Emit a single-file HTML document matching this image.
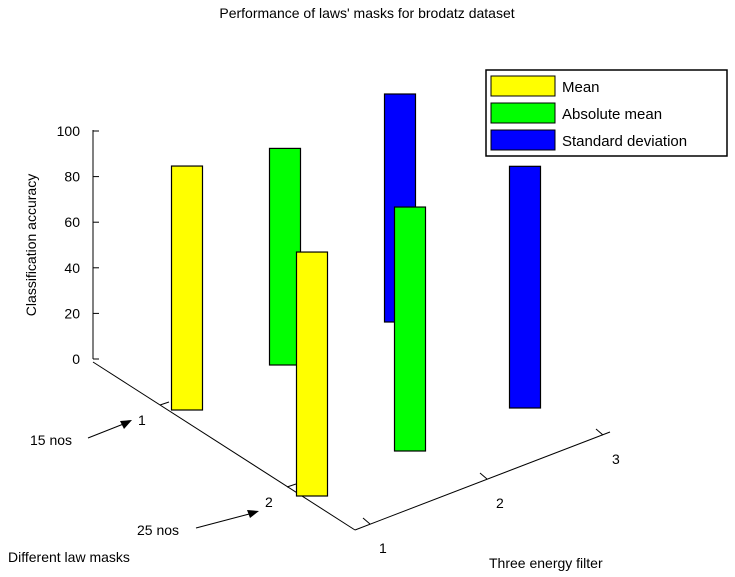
<!DOCTYPE html>
<html><head><meta charset="utf-8"><style>
body{margin:0;background:#fff}
svg{display:block;font-family:"Liberation Sans",Arial,sans-serif}
</style></head><body>
<svg id="chart" width="735" height="577" viewBox="0 0 735 577" style="position:absolute;left:0;top:0">
<text x="367" y="18" text-anchor="middle" font-size="14">Performance of laws' masks for brodatz dataset</text>
<g id="axes" stroke="#000" stroke-width="1" fill="none"></g>
<g id="labels" font-size="14"></g>
<g id="bars"></g>
<text transform="translate(36,245) rotate(-90)" text-anchor="middle" font-size="14">Classification accuracy</text>
<text x="8" y="562" font-size="14">Different law masks</text>
<text x="489" y="568" font-size="14">Three energy filter</text>
<text x="30" y="445" font-size="14">15 nos</text>
<line x1="88" y1="438" x2="126" y2="423" stroke="#000"/>
<polygon points="132,420 120,421 124,429" fill="#000"/>
<text x="137" y="535" font-size="14">25 nos</text>
<line x1="196" y1="528" x2="253" y2="513" stroke="#000"/>
<polygon points="259,511 247,510 250,518" fill="#000"/>
<g>
<rect x="486" y="70" width="241" height="86" fill="#fff" stroke="#000" stroke-width="1.5"/>
<rect x="491" y="76" width="64" height="20" fill="#ffff00" stroke="#000"/>
<text x="562" y="92" font-size="15">Mean</text>
<rect x="491" y="103" width="64" height="20" fill="#00ff00" stroke="#000"/>
<text x="562" y="119" font-size="15">Absolute mean</text>
<rect x="491" y="130" width="64" height="20" fill="#0000ff" stroke="#000"/>
<text x="562" y="146" font-size="15">Standard deviation</text>
</g>
</svg>
<script>
const series = ["Mean","Absolute mean","Standard deviation"];
const colors = ["#ffff00","#00ff00","#0000ff"];
const maskCats = ["1","2"];
const filterCats = ["1","2","3"];
const zTicks = [0,20,40,60,80,100];
// values[mask][filter]
const valuesMask1 = [107, 95, 100];
const valuesMask2 = [107, 107, 106];
const values = [valuesMask1, valuesMask2];

const NS="http://www.w3.org/2000/svg";
function mk(t,a,p){const e=document.createElementNS(NS,t);for(const k in a)e.setAttribute(k,a[k]);p.appendChild(e);return e;}
const zScale=2.28;
// perspective-like floor projection
function filterOffX(f){return f===1?0:(f===2?98:213);}
function filterOffY(f){return f===1?0:(f===2?-45:-88);}
function floorPt(f,m){return [187+filterOffX(f)+(m-1)*125, 410+filterOffY(f)+(m-1)*86];}
function zY(v){return 359 - v*zScale;}

const axes=document.getElementById('axes');
const labels=document.getElementById('labels');
let a=mk('line',{x1:93,y1:359,x2:93,y2:130},axes);

zTicks.forEach(t=>{
  const y=zY(t);
  const l=mk('line',{x1:93,y1:y,x2:99,y2:y},axes);
  
  const tx=mk('text',{x:80,y:y+5,'text-anchor':'end'},labels);tx.textContent=t;
  
});
a=mk('line',{x1:93,y1:362,x2:355,y2:530},axes);

a=mk('line',{x1:355,y1:530,x2:610,y2:432},axes);

const maskTickPos=[[160,405],[287,487]];
maskCats.forEach((c,i)=>{
  const [x,y]=maskTickPos[i];
  const l=mk('line',{x1:x,y1:y,x2:x+9,y2:y-3},axes);
  
  const t=mk('text',{x:x-22,y:y+20},labels);t.textContent=c;
  
});
const filtTickPos=[[370,524],[487,479],[603,435]];
filterCats.forEach((c,i)=>{
  const [x,y]=filtTickPos[i];
  const l=mk('line',{x1:x,y1:y,x2:x-7,y2:y-6},axes);
  
  const t=mk('text',{x:x+9,y:y+29},labels);t.textContent=c;
  
});
const bars=document.getElementById('bars');
[[0,0],[0,1],[0,2],[1,0],[1,1],[1,2]].forEach(([m,f])=>{
  const [cx,cy]=floorPt(f+1,m+1);
  const h=values[m][f]*zScale;
  const r=mk('rect',{x:cx-15.5,y:cy-h,width:31,height:h,fill:colors[f],stroke:'#000','stroke-width':1.2},bars);
  
  
});
</script>
</body></html>
